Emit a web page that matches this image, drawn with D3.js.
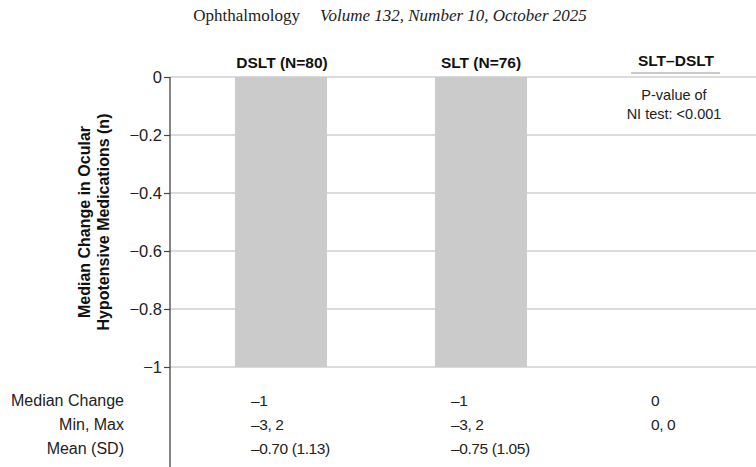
<!DOCTYPE html>
<html>
<head>
<meta charset="utf-8">
<script src="https://cdn.jsdelivr.net/npm/d3@7"></script>
<style>
  html, body { margin: 0; padding: 0; background: #fff; }
  svg { display: block; }
</style>
</head>
<body>
<svg id="chart" width="756" height="467"></svg>
<script>
// Groups and their headers
const groups = ["DSLT", "SLT", "SLT–DSLT"];
const groupHeaders = ["DSLT (N=80)", "SLT (N=76)", "SLT–DSLT"];
// Median change in ocular hypotensive medications (bars; no bar for the difference)
const medianValues = [-1, -1, null];
// Y axis ticks
const yTicks = [0, -0.2, -0.4, -0.6, -0.8, -1];
// Summary table below the plot
const rowLabels = ["Median Change", "Min, Max", "Mean (SD)"];
const medianChangeText = ["–1", "–1", "0"];
const minMaxText = ["–3, 2", "–3, 2", "0, 0"];
const meanSdText = ["–0.70 (1.13)", "–0.75 (1.05)", ""];
const pValueLines = ["P-value of", "NI test: <0.001"];

const svg = d3.select("#chart");
const W = 756, H = 467;
const sans = "'Liberation Sans', Arial, Helvetica, sans-serif";
const serif = "'Liberation Serif', 'Times New Roman', serif";

// Journal running header
const title = svg.append("text")
  .attr("x", 390).attr("y", 21)
  .attr("text-anchor", "middle")
  .style("font-family", serif).style("font-size", "17px").style("fill", "#222");
title.append("tspan").text("Ophthalmology");
title.append("tspan").attr("dx", 20).style("font-style", "italic")
  .text("Volume 132, Number 10, October 2025");

const axisX = 170;
const y = d3.scaleLinear().domain([-1, 0]).range([367, 77]);
const x = d3.scaleBand().domain(groups).range([181, 781])
  .paddingInner(0.54).paddingOuter(0.27);

// Horizontal gridlines
svg.append("g").selectAll("line").data(yTicks).join("line")
  .attr("x1", axisX).attr("x2", W)
  .attr("y1", d => y(d)).attr("y2", d => y(d))
  .attr("stroke", "#cfcfcf").attr("stroke-width", 1.5);

// Bars
svg.append("g").selectAll("rect")
  .data(groups.map((g, i) => ({ g, v: medianValues[i] })).filter(d => d.v !== null))
  .join("rect")
  .attr("x", d => x(d.g))
  .attr("width", x.bandwidth())
  .attr("y", d => y(Math.max(0, d.v)))
  .attr("height", d => Math.abs(y(d.v) - y(0)))
  .attr("fill", "#cbcbcb");

// Y axis
const yAxis = d3.axisLeft(y).tickValues(yTicks).tickSize(6).tickPadding(2)
  .tickFormat(d => d === 0 ? "0" : d3.format(".1~f")(d).replace("-", "–"));
const ax = svg.append("g").attr("transform", `translate(${axisX},0)`).call(yAxis);
ax.select(".domain").remove();
ax.selectAll(".tick line").attr("stroke", "#444").attr("stroke-width", 1.2);
ax.selectAll(".tick text").style("font-family", sans).style("font-size", "16.5px")
  .attr("fill", "#222");
svg.append("line").attr("x1", axisX).attr("x2", axisX).attr("y1", y(0)).attr("y2", H)
  .attr("stroke", "#444").attr("stroke-width", 1.3);

// Y axis title
const yt = svg.append("text")
  .attr("transform", "translate(94,222) rotate(-90)")
  .attr("text-anchor", "middle")
  .style("font-family", sans).style("font-size", "16px").style("font-weight", "bold").style("fill", "#111");
yt.append("tspan").attr("x", 0).attr("dy", "-0.25em").text("Median Change in Ocular");
yt.append("tspan").attr("x", 0).attr("dy", "1.2em").text("Hypotensive Medications (n)");

// Column headers
const headerOffset = [1, 0, -5];
svg.append("g").selectAll("text").data(groups).join("text")
  .attr("x", (d, i) => x(d) + x.bandwidth() / 2 + headerOffset[i])
  .attr("y", (d, i) => i === 2 ? 66 : 68)
  .attr("text-anchor", "middle")
  .style("font-family", sans).style("font-size", "15.5px").style("font-weight", "bold").style("fill", "#111")
  .text((d, i) => groupHeaders[i]);

// Underline below the difference header
const diffCenter = x(groups[2]) + x.bandwidth() / 2 - 5;
svg.append("line").attr("x1", diffCenter - 45).attr("x2", diffCenter + 44)
  .attr("y1", 73).attr("y2", 73).attr("stroke", "#bbb").attr("stroke-width", 1.5);

// P-value note
svg.append("g").selectAll("text").data(pValueLines).join("text")
  .attr("x", diffCenter - 2).attr("y", (d, i) => 100 + i * 19)
  .attr("text-anchor", "middle")
  .style("font-family", sans).style("font-size", "14.5px").style("fill", "#222")
  .text(d => d);

// Summary table
const rowY = [406, 430, 454];
svg.append("g").selectAll("text").data(rowLabels).join("text")
  .attr("x", 124).attr("y", (d, i) => rowY[i])
  .attr("text-anchor", "end")
  .style("font-family", sans).style("font-size", "16px").style("fill", "#222")
  .text(d => d);

const rows = [medianChangeText, minMaxText, meanSdText];
rows.forEach((vals, r) => {
  svg.append("g").selectAll("text").data(vals).join("text")
    .attr("x", (d, i) => x(groups[i]) + 16)
    .attr("y", rowY[r])
    .style("font-family", sans).style("font-size", "15.5px")
    .style("letter-spacing", "-0.4px").style("fill", "#222")
    .text(d => d);
});
</script>
</body>
</html>
